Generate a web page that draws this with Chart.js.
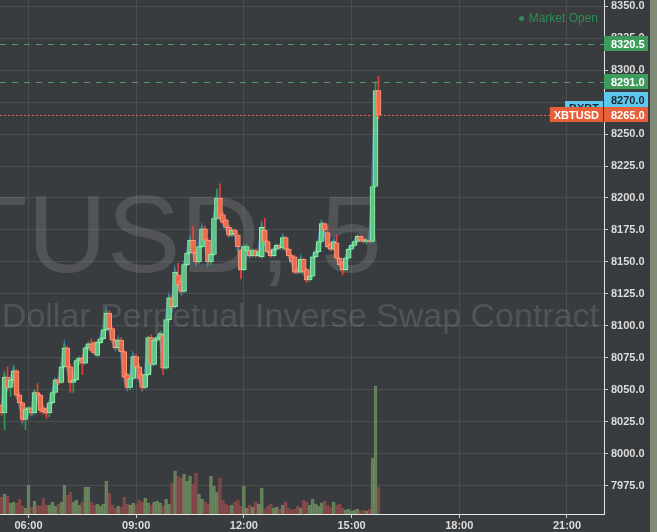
<!DOCTYPE html>
<html>
<head>
<meta charset="utf-8">
<script src="https://cdn.jsdelivr.net/npm/chart.js@4.4.1/dist/chart.umd.min.js"></script>
<style>
  html, body { margin: 0; padding: 0; background: #7e8a76; }
  #wrap { width: 650px; height: 532px; position: relative; }
</style>
</head>
<body>
<div id="wrap"><canvas id="xbtChart"></canvas></div>
<script>
// XBTUSD, 5 minute candles from 05:15 to 15:45
const startMinute = 5 * 60 + 15;
const barMinutes = 5;

const opens = [
  8038, 8032, 8060, 8052, 8058, 8065, 8046, 8040, 8027, 8035,
  8036, 8032, 8048, 8046, 8036, 8035, 8032, 8040, 8048, 8058,
  8056, 8068, 8083, 8068, 8056, 8058, 8073, 8075, 8071, 8083,
  8086, 8087, 8077, 8087, 8090, 8097, 8110, 8098, 8089, 8083,
  8089, 8080, 8062, 8052, 8059, 8076, 8068, 8062, 8052, 8062,
  8091, 8070, 8089, 8091, 8093, 8067, 8105, 8122, 8115, 8140,
  8135, 8127, 8148, 8157, 8167, 8157, 8150, 8162, 8176, 8167,
  8150, 8156, 8184, 8200, 8187, 8183, 8177, 8171, 8175, 8171,
  8159, 8144, 8159, 8159, 8155, 8159, 8155, 8154, 8175, 8166,
  8158, 8155, 8160, 8163, 8161, 8169, 8160, 8155, 8154, 8144,
  8142, 8152, 8144, 8136, 8139, 8154, 8158, 8166, 8180, 8173,
  8164, 8160, 8165, 8153, 8150, 8144, 8153, 8160, 8163, 8166,
  8170, 8168, 8166, 8167, 8166, 8209, 8284
];
const highs = [
  8040, 8063, 8068, 8059, 8069, 8066, 8048, 8041, 8036, 8037,
  8037, 8050, 8055, 8047, 8038, 8036, 8041, 8049, 8059, 8059,
  8069, 8085, 8084, 8070, 8059, 8075, 8076, 8077, 8084, 8087,
  8090, 8088, 8088, 8091, 8098, 8112, 8112, 8099, 8090, 8090,
  8091, 8081, 8063, 8060, 8077, 8078, 8070, 8063, 8063, 8092,
  8093, 8090, 8092, 8095, 8094, 8106, 8123, 8124, 8143, 8149,
  8136, 8149, 8158, 8168, 8178, 8159, 8163, 8177, 8178, 8168,
  8157, 8185, 8207, 8211, 8189, 8184, 8179, 8176, 8176, 8172,
  8160, 8163, 8164, 8160, 8160, 8160, 8159, 8180, 8184, 8167,
  8159, 8161, 8164, 8164, 8170, 8170, 8161, 8156, 8155, 8145,
  8153, 8153, 8145, 8140, 8155, 8159, 8167, 8182, 8181, 8178,
  8165, 8167, 8171, 8154, 8151, 8154, 8161, 8164, 8167, 8171,
  8171, 8169, 8168, 8168, 8211, 8291, 8295
];
const lows = [
  8030, 8019, 8050, 8045, 8056, 8044, 8038, 8025, 8019, 8030,
  8030, 8031, 8045, 8032, 8031, 8028, 8029, 8039, 8047, 8054,
  8055, 8067, 8066, 8048, 8048, 8057, 8070, 8062, 8070, 8082,
  8080, 8078, 8076, 8086, 8089, 8096, 8097, 8088, 8082, 8081,
  8079, 8059, 8051, 8050, 8058, 8067, 8058, 8050, 8051, 8061,
  8069, 8069, 8088, 8090, 8062, 8066, 8104, 8114, 8114, 8131,
  8126, 8126, 8147, 8156, 8156, 8149, 8149, 8161, 8166, 8149,
  8148, 8155, 8183, 8183, 8180, 8176, 8170, 8170, 8170, 8161,
  8137, 8143, 8158, 8154, 8154, 8154, 8154, 8153, 8165, 8157,
  8154, 8154, 8159, 8160, 8160, 8159, 8154, 8149, 8141, 8141,
  8141, 8141, 8134, 8135, 8138, 8153, 8157, 8165, 8174, 8161,
  8159, 8159, 8152, 8147, 8140, 8143, 8152, 8159, 8162, 8165,
  8166, 8165, 8164, 8165, 8165, 8208, 8262
];
const closes = [
  8032, 8060, 8052, 8058, 8065, 8046, 8040, 8027, 8035, 8036,
  8032, 8048, 8046, 8034, 8033, 8032, 8040, 8048, 8058, 8056,
  8068, 8083, 8068, 8056, 8058, 8073, 8075, 8071, 8083, 8086,
  8081, 8079, 8087, 8090, 8097, 8110, 8098, 8089, 8083, 8089,
  8080, 8060, 8052, 8059, 8076, 8068, 8059, 8052, 8062, 8091,
  8070, 8089, 8091, 8094, 8067, 8105, 8122, 8115, 8142, 8132,
  8127, 8148, 8157, 8167, 8157, 8150, 8162, 8176, 8167, 8150,
  8156, 8184, 8200, 8184, 8181, 8177, 8171, 8175, 8172, 8162,
  8144, 8162, 8162, 8155, 8159, 8155, 8158, 8177, 8166, 8158,
  8155, 8160, 8163, 8161, 8169, 8160, 8155, 8150, 8142, 8142,
  8152, 8142, 8136, 8139, 8154, 8158, 8166, 8180, 8175, 8162,
  8160, 8166, 8153, 8148, 8144, 8153, 8160, 8163, 8166, 8170,
  8167, 8166, 8167, 8166, 8209, 8284, 8265
];
const volumes = [
  17, 20, 18, 11, 12, 11, 15, 8, 6, 29,
  7, 13, 9, 8, 16, 9, 9, 12, 8, 10,
  12, 29, 19, 22, 12, 14, 9, 12, 27, 27,
  12, 9, 10, 8, 10, 33, 21, 9, 6, 8,
  7, 17, 10, 9, 11, 9, 14, 12, 16, 11,
  9, 12, 13, 11, 8, 15, 10, 31, 43, 38,
  36, 40, 33, 38, 30, 41, 20, 15, 12, 10,
  38, 28, 22, 36, 14, 10, 8, 9, 12, 14,
  8, 28, 6, 9, 7, 12, 10, 26, 5, 8,
  10, 6, 7, 5, 9, 12, 6, 4, 5, 8,
  6, 14, 12, 9, 15, 10, 8, 11, 13, 9,
  7, 12, 9, 10, 6, 4, 5, 3, 4, 5,
  3, 4, 3, 5, 56, 128, 27
];

const timeTicks = [360, 540, 720, 900, 1080, 1260];
const timeTickLabels = ["06:00", "09:00", "12:00", "15:00", "18:00", "21:00"];
const priceTicks = [7975, 8000, 8025, 8050, 8075, 8100, 8125, 8150, 8175, 8200,
  8225, 8250, 8275, 8300, 8325, 8350];

// price tags on the right axis
const markerPrices = [8320.5, 8291.0, 8270.0, 8265.0];
const markerTags = ["", "", "BXBT", "XBTUSD"];
const markerColors = ["#3d9c5c", "#3d9c5c", "#5ec8ee", "#e8603a"];
const markerText = ["#ffffff", "#ffffff", "#1e2a30", "#ffffff"];

const times = closes.map((c, i) => startMinute + i * barMinutes);
const isUp = closes.map((c, i) => c >= opens[i]);

const decorations = {
  id: "decorations",
  beforeDraw(chart) {
    const ctx = chart.ctx;
    ctx.save();
    ctx.fillStyle = "#393c3f";
    ctx.fillRect(0, 0, chart.width, chart.height);
    ctx.restore();
  },
  beforeDatasetsDraw(chart) {
    const ctx = chart.ctx;
    const area = chart.chartArea;
    ctx.save();
    ctx.beginPath();
    ctx.rect(area.left, area.top, area.right - area.left, area.bottom - area.top);
    ctx.clip();
    ctx.fillStyle = "rgba(255,255,255,0.12)";
    ctx.textAlign = "right";
    ctx.textBaseline = "alphabetic";
    ctx.font = '110px "Liberation Sans", Arial, sans-serif';
    ctx.fillText("XBTUSD, 5", 382, 272);
    ctx.font = '34px "Liberation Sans", Arial, sans-serif';
    ctx.fillText("Bitcoin / US Dollar Perpetual Inverse Swap Contract", 599, 327);
    ctx.restore();
  },
  afterDraw(chart) {
    const ctx = chart.ctx;
    const area = chart.chartArea;
    const y = chart.scales.y;
    const boxH = 15;
    ctx.save();

    // market status
    ctx.font = '12px "Liberation Sans", Arial, sans-serif';
    ctx.textAlign = "right";
    ctx.textBaseline = "middle";
    ctx.fillStyle = "#2f8a55";
    ctx.fillText("\u25CF Market Open", 598, 19);

    const ys = markerPrices.map((p) => y.getPixelForValue(p));

    // horizontal price lines
    ctx.lineWidth = 1;
    ctx.setLineDash([6, 6]);
    ctx.strokeStyle = "#4f9e68";
    [0, 1].forEach((i) => {
      ctx.beginPath();
      ctx.moveTo(area.left, Math.round(ys[i]) + 0.5);
      ctx.lineTo(area.right, Math.round(ys[i]) + 0.5);
      ctx.stroke();
    });
    ctx.setLineDash([2, 2]);
    ctx.strokeStyle = "#e8603a";
    ctx.beginPath();
    ctx.moveTo(area.left, Math.round(ys[3]) + 0.5);
    ctx.lineTo(area.right, Math.round(ys[3]) + 0.5);
    ctx.stroke();
    ctx.setLineDash([]);

    // symbol tags left of the axis
    ctx.font = 'bold 11px "Liberation Sans", Arial, sans-serif';
    ctx.textAlign = "center";
    markerTags.forEach((tag, i) => {
      if (!tag) return;
      const w = ctx.measureText(tag).width + 8;
      ctx.fillStyle = markerColors[i];
      ctx.fillRect(area.right - w - 1, Math.round(ys[i] - boxH / 2), w, boxH);
      ctx.fillStyle = markerText[i];
      ctx.fillText(tag, area.right - w / 2 - 1, Math.round(ys[i]) + 0.5);
    });

    // value boxes on the axis, pushed up when they overlap
    const labelY = ys.slice();
    for (let i = labelY.length - 2; i >= 0; i--) {
      labelY[i] = Math.min(labelY[i], labelY[i + 1] - boxH);
    }
    ctx.textAlign = "left";
    markerPrices.forEach((p, i) => {
      ctx.fillStyle = markerColors[i];
      ctx.fillRect(area.right, Math.round(labelY[i] - boxH / 2), 44, boxH);
      ctx.fillStyle = markerText[i];
      ctx.fillText(p.toFixed(1), area.right + 7, Math.round(labelY[i]) + 0.5);
    });
    ctx.restore();
  },
};

const ctx = document.getElementById("xbtChart");

new Chart(ctx, {
  type: "bar",

  data: {
    datasets: [
      // BODIES
      {
        label: "Body",
        data: times.map((t, i) => ({ x: t, y: [opens[i], closes[i]] })),
        backgroundColor: isUp.map((u) => (u ? "#5cc487" : "#ee6a4c")),
        borderColor: isUp.map((u) => (u ? "#93ebb2" : "#f79a7c")),
        borderWidth: 1,
        borderSkipped: false,
        barThickness: 5,
        grouped: false,
        order: 1,
      },

      // WICKS
      {
        label: "Wick",
        data: times.map((t, i) => ({ x: t, y: [lows[i], highs[i]] })),
        backgroundColor: isUp.map((u) => (u ? "#2f9c4c" : "#e2413b")),
        borderWidth: 0,
        barThickness: 1,
        grouped: false,
        order: 2,
      },

      // INDEX SHADOW LINE
      {
        type: "line",
        label: "Close",
        data: times.map((t, i) => ({ x: t, y: closes[i] })),
        borderColor: "rgba(70,150,205,0.7)",
        borderWidth: 3,
        pointRadius: 0,
        tension: 0,
        order: 3,
      },

      // VOLUME
      {
        label: "Volume",
        yAxisID: "vol",
        data: times.map((t, i) => ({ x: t, y: volumes[i] })),
        backgroundColor: isUp.map((u) => (u ? "rgba(105,140,92,0.55)" : "rgba(140,70,70,0.6)")),
        borderColor: isUp.map((u) => (u ? "rgba(125,160,105,0.7)" : "rgba(160,80,80,0.7)")),
        borderWidth: 1,
        barThickness: 3,
        grouped: false,
        order: 4,
      },
    ],
  },

  options: {
    responsive: true,
    maintainAspectRatio: false,
    animation: false,
    layout: { padding: 0 },

    plugins: {
      legend: { display: false },
      tooltip: { enabled: false },
    },

    scales: {
      x: {
        type: "linear",
        min: 312.4,
        max: 1321.9,
        offset: false,
        grid: { color: "#4a4d51", offset: false, tickLength: 4, tickColor: "#d0d0d0" },
        border: { color: "#e6e6e6" },
        ticks: {
          color: "#dcdcdc",
          font: { family: '"Liberation Sans", Arial, sans-serif', size: 11, weight: "bold" },
          padding: 1,
          maxRotation: 0,
          autoSkip: false,
          callback: function (value, index) {
            return timeTickLabels[index];
          },
        },
        afterBuildTicks: function (scale) {
          scale.ticks = timeTicks.map((v) => ({ value: v }));
        },
        afterFit: function (scale) {
          scale.height = 18;
          scale.paddingLeft = 0;
          scale.paddingRight = 0;
        },
      },

      y: {
        position: "right",
        min: 7953.1,
        max: 8354.7,
        grid: { color: "#4a4d51", tickLength: 4, tickColor: "#d0d0d0" },
        border: { color: "#e6e6e6" },
        ticks: {
          color: "#dcdcdc",
          font: { family: '"Liberation Sans", Arial, sans-serif', size: 11, weight: "bold" },
          padding: 3,
          callback: function (value) {
            return value.toFixed(1);
          },
        },
        afterBuildTicks: function (scale) {
          scale.ticks = priceTicks.map((v) => ({ value: v }));
        },
        afterFit: function (scale) {
          scale.width = 46;
          scale.paddingTop = 0;
          scale.paddingBottom = 0;
        },
      },

      vol: {
        display: false,
        min: 0,
        max: 514,
      },
    },
  },

  plugins: [decorations],
});
</script>
</body>
</html>
